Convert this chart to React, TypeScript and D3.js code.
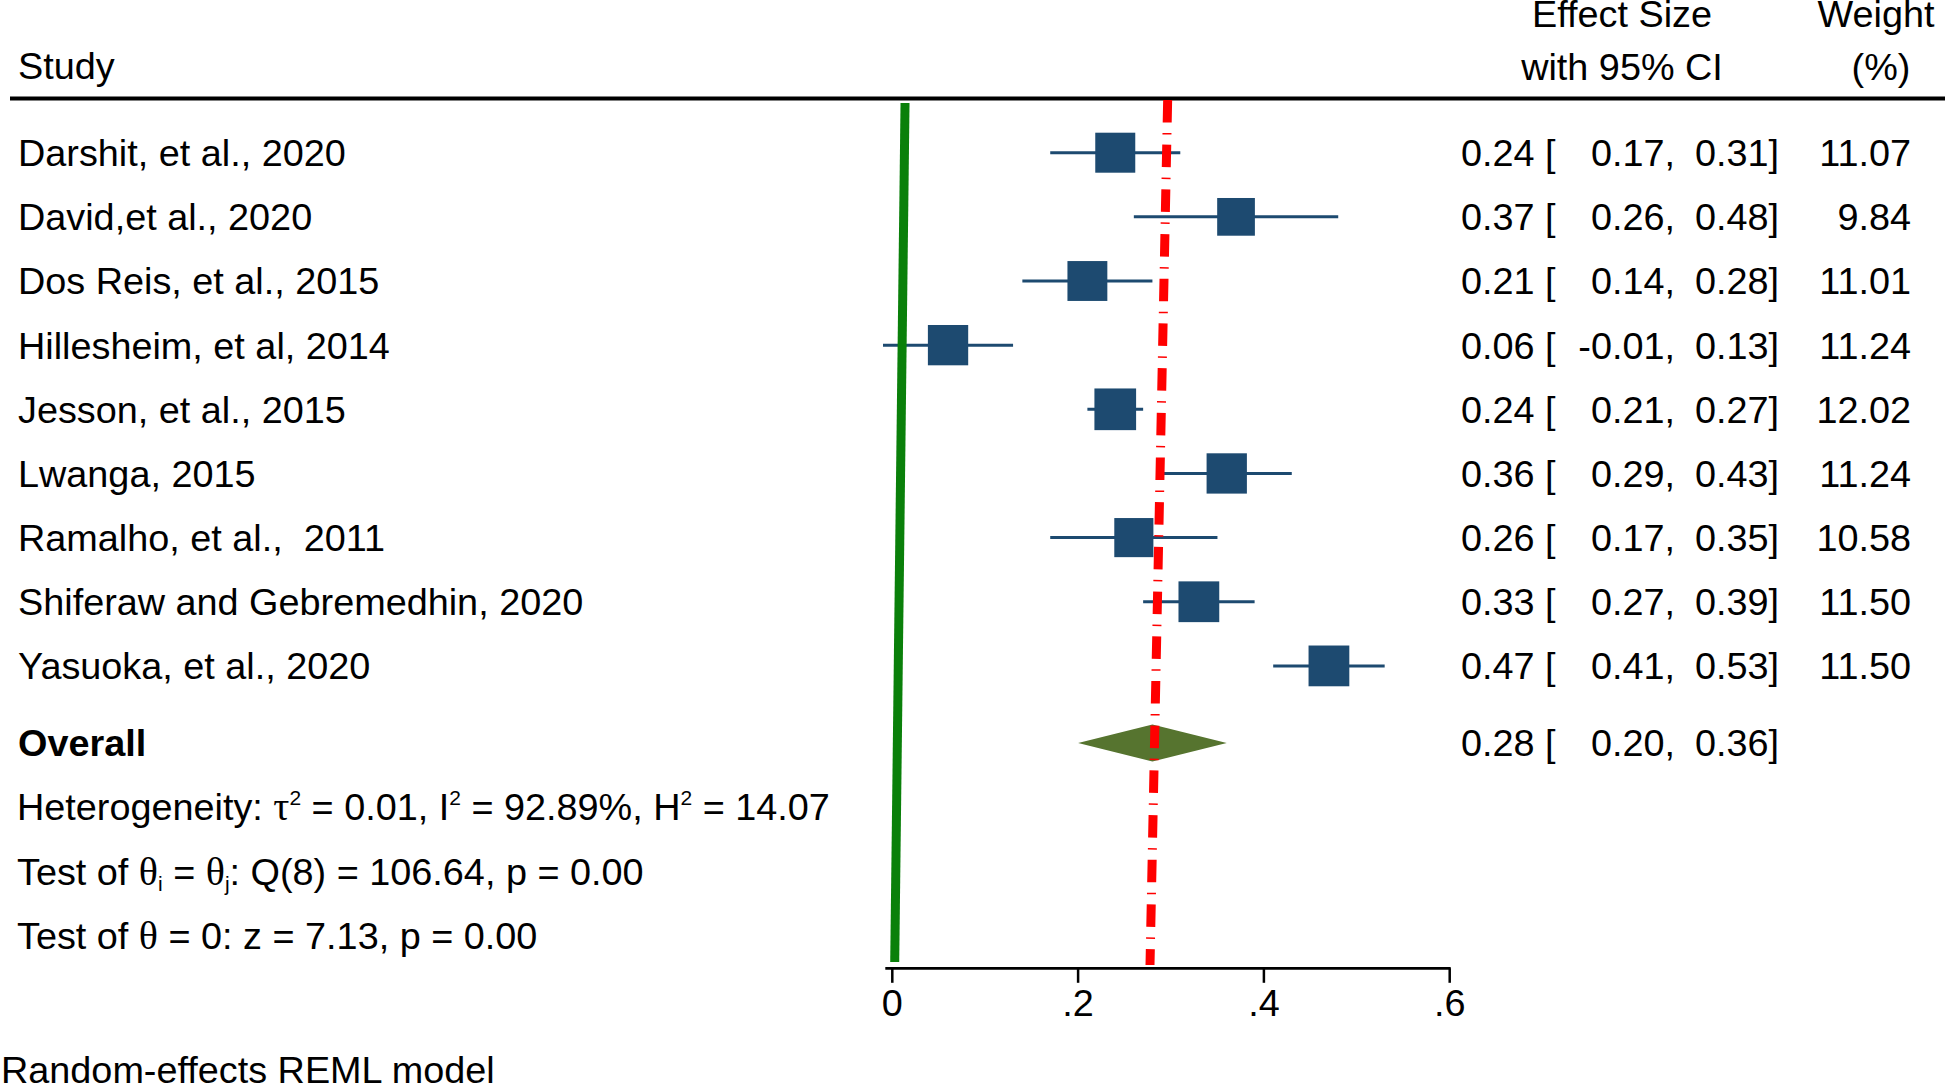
import React from "react";
import * as d3 from "d3";

const studies = [
  "Darshit, et al., 2020",
  "David,et al., 2020",
  "Dos Reis, et al., 2015",
  "Hillesheim, et al, 2014",
  "Jesson, et al., 2015",
  "Lwanga, 2015",
  "Ramalho, et al.,  2011",
  "Shiferaw and Gebremedhin, 2020",
  "Yasuoka, et al., 2020",
];
const estimates = [0.24, 0.37, 0.21, 0.06, 0.24, 0.36, 0.26, 0.33, 0.47];
const lowers = [0.17, 0.26, 0.14, -0.01, 0.21, 0.29, 0.17, 0.27, 0.41];
const uppers = [0.31, 0.48, 0.28, 0.13, 0.27, 0.43, 0.35, 0.39, 0.53];
const weights = [11.07, 9.84, 11.01, 11.24, 12.02, 11.24, 10.58, 11.5, 11.5];

const overallEst = 0.28;
const overallLow = 0.2;
const overallHigh = 0.36;

const tickValues = [0, 0.2, 0.4, 0.6];
const tickLabels = ["0", ".2", ".4", ".6"];

// reference lines as drawn (slightly leaning in the original): value at bottom, value at top
const refLineBottom = [0.0026, 0.2774];
const refLineTop = [0.0137, 0.2964];

const W = 1945;
const H = 1084;
const FONT = "'Liberation Sans', Arial, Helvetica, sans-serif";
const GREEK = "'Liberation Serif', 'Times New Roman', serif";
const FS = 37.8;
const NAVY = "#1d4a70";
const OLIVE = "#56742f";

const fmt = d3.format(".2f");
const f2 = (v: number) => fmt(v).replace("\u2212", "-");

export default function App() {
  const x = d3.scaleLinear().domain([0, 0.6]).range([892.3, 1449.7]);
  const y = d3.scaleLinear().domain([0, 1]).range([152.7, 216.85]);
  const box = d3.scaleSqrt().domain([0, 11.07]).range([0, 40]);
  const base = 13.4;

  const overallRow = 9.2;
  const statRows = [10.2, 11.2, 12.2];
  const axisY = 968.3;
  const lineTopY = [103, 100];
  const lineBottomY = [962, 965];

  const dY = y(overallRow);
  const diamond = `M${x(overallLow)},${dY} L${x(overallEst)},${dY - 18.5} L${x(overallHigh)},${dY} L${x(overallEst)},${dY + 18.5} Z`;

  const textStyle = { fontFamily: FONT, fontSize: FS, fill: "#000" } as const;

  return (
    <svg
      width={W}
      height={H}
      viewBox={`0 0 ${W} ${H}`}
      style={{ position: "absolute", left: 0, top: 0, background: "#fff" }}
    >
      <rect x={0} y={0} width={W} height={H} fill="#fff" />
      {/* header */}
      <text x={18} y={78.5} {...textStyle}>Study</text>
      <text x={1622} y={27} textAnchor="middle" {...textStyle}>Effect Size</text>
      <text x={1622} y={79.5} textAnchor="middle" {...textStyle}>with 95% CI</text>
      <text x={1876} y={27} textAnchor="middle" {...textStyle}>Weight</text>
      <text x={1881} y={79.5} textAnchor="middle" {...textStyle}>(%)</text>
      <line x1={10} x2={W} y1={98.5} y2={98.5} stroke="#000" strokeWidth={4} />

      {/* study rows */}
      {studies.map((s, i) => {
        const cy = y(i);
        const side = box(weights[i]);
        return (
          <g key={s}>
            <text x={18} y={cy + base} {...textStyle} style={{ whiteSpace: "pre" }}>
              {s}
            </text>
            <line x1={x(lowers[i])} x2={x(uppers[i])} y1={cy} y2={cy} stroke={NAVY} strokeWidth={3} />
            <rect x={x(estimates[i]) - side / 2} y={cy - side / 2} width={side} height={side} fill={NAVY} />
            <text x={1461} y={cy + base} {...textStyle}>{`${f2(estimates[i])} [`}</text>
            <text x={1675} y={cy + base} textAnchor="end" {...textStyle}>{`${f2(lowers[i])},`}</text>
            <text x={1779} y={cy + base} textAnchor="end" {...textStyle}>{`${f2(uppers[i])}]`}</text>
            <text x={1911} y={cy + base} textAnchor="end" {...textStyle}>{f2(weights[i])}</text>
          </g>
        );
      })}

      {/* overall */}
      <text x={18} y={dY + base} {...textStyle} fontWeight="bold">Overall</text>
      <path d={diamond} fill={OLIVE} />
      <text x={1461} y={dY + base} {...textStyle}>{`${f2(overallEst)} [`}</text>
      <text x={1675} y={dY + base} textAnchor="end" {...textStyle}>{`${f2(overallLow)},`}</text>
      <text x={1779} y={dY + base} textAnchor="end" {...textStyle}>{`${f2(overallHigh)}]`}</text>

      {/* heterogeneity stats */}
      <text x={17} y={y(statRows[0]) + base} {...textStyle}>
        Heterogeneity:{" "}
        <tspan fontFamily={GREEK} fontSize={40}>τ</tspan>
        <tspan fontSize={21} dy={-15}>2</tspan>
        <tspan dy={15}> = 0.01, I</tspan>
        <tspan fontSize={21} dy={-15}>2</tspan>
        <tspan dy={15}> = 92.89%, H</tspan>
        <tspan fontSize={21} dy={-15}>2</tspan>
        <tspan dy={15}> = 14.07</tspan>
      </text>
      <text x={17} y={y(statRows[1]) + base} {...textStyle}>
        Test of <tspan fontFamily={GREEK} fontSize={40}>θ</tspan>
        <tspan fontSize={21} dy={6}>i</tspan>
        <tspan dy={-6}> = </tspan>
        <tspan fontFamily={GREEK} fontSize={40}>θ</tspan>
        <tspan fontSize={21} dy={6}>j</tspan>
        <tspan dy={-6}>: Q(8) = 106.64, p = 0.00</tspan>
      </text>
      <text x={17} y={y(statRows[2]) + base} {...textStyle}>
        Test of <tspan fontFamily={GREEK} fontSize={40}>θ</tspan> = 0: z = 7.13, p = 0.00
      </text>

      {/* reference lines */}
      <line
        x1={x(refLineTop[0])}
        y1={lineTopY[0]}
        x2={x(refLineBottom[0])}
        y2={lineBottomY[0]}
        stroke="#0a800a"
        strokeWidth={9}
      />
      <line
        x1={x(refLineTop[1])}
        y1={lineTopY[1]}
        x2={x(refLineBottom[1])}
        y2={lineBottomY[1]}
        stroke="#ff0000"
        strokeWidth={9}
        strokeDasharray="22.5 10.5 1.5 10.2"
      />

      {/* axis */}
      <line x1={x(0) - 7} x2={x(0.6) + 1} y1={axisY} y2={axisY} stroke="#000" strokeWidth={2.8} />
      {tickValues.map((t, i) => (
        <g key={t}>
          <line x1={x(t)} x2={x(t)} y1={axisY} y2={axisY + 14.5} stroke="#000" strokeWidth={2.5} />
          <text x={x(t)} y={1016} textAnchor="middle" {...textStyle}>{tickLabels[i]}</text>
        </g>
      ))}

      <text x={1} y={1082.5} {...textStyle}>Random-effects REML model</text>
    </svg>
  );
}
